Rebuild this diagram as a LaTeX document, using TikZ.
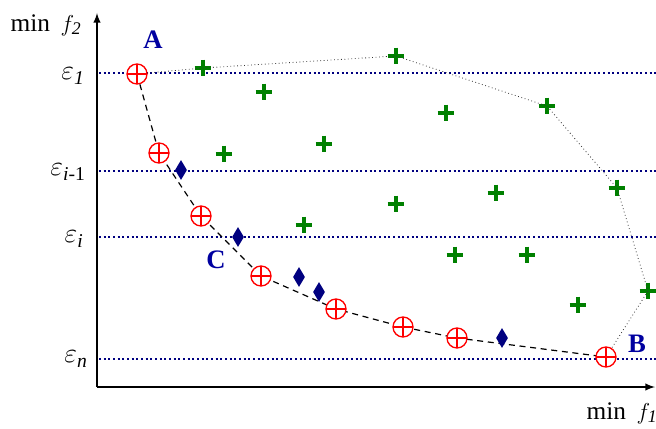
\documentclass[tikz,border=0pt]{standalone}
\usepackage{amsmath}
\usepackage{fontspec}
\setmainfont{Liberation Serif}
\usepackage{tikz}
\usetikzlibrary{shapes.geometric}
\usepackage{xcolor}
\definecolor{navy}{RGB}{0,0,128}
\definecolor{labblue}{RGB}{0,0,160}
\definecolor{ptgreen}{RGB}{0,128,0}

\begin{document}
\begin{tikzpicture}[x=0.75pt,y=-0.75pt,
			axis/.style={line width=1.5pt,-latex},
			level/.style={navy,dotted,line width=1.5pt},
			front/.style={black,dash pattern=on 4.5pt off 3.5pt,line width=0.9pt},
			hull/.style={black!80,dotted,line width=0.6pt},
			pareto/.style={draw=red,circle,line width=1pt,fill=white,inner sep=0pt,minimum size=15pt,
				path picture={\draw[red,line width=1pt] (path picture bounding box.north) -- (path picture bounding box.south)
				(path picture bounding box.west) -- (path picture bounding box.east);}},
			sol/.style={diamond,fill=navy,inner sep=0pt,minimum width=9pt,minimum height=15pt},
			pt/.style={inner sep=0pt,minimum size=12.5pt,
				path picture={\draw[ptgreen,line width=2.6pt] (path picture bounding box.north) -- (path picture bounding box.south)
				(path picture bounding box.west) -- (path picture bounding box.east);}},
			lab/.style={font=\fontsize{19}{22}\selectfont},
			eps/.style={font=\fontsize{21}{24}\selectfont},
			corner/.style={labblue,font=\fontsize{20}{22}\selectfont\bfseries}]
			\useasboundingbox (0,0) rectangle (656,428);
			% axes
			\coordinate (o) at (97,387);
			\coordinate (ytop) at (97,13);
			\coordinate (xend) at (655,387);
			\draw[axis] (o) -- (ytop);
			\draw[axis] (o) -- (xend);
			\node[lab] (yl) at (46,25) {min\, $f_{\mathit{2}}$};
			\node[lab] (xl) at (622,413) {min\, $f_{\mathit{1}}$};
			% epsilon levels
			\foreach \y/\n in {73/e1,171/e2,237/e3,359/e4}{
				\coordinate (\n a) at (99,\y);
				\coordinate (\n b) at (656,\y);
				\draw[level] (\n a) -- (\n b);
			}
			\node[eps] (l1) at (73,76) {$\varepsilon_{\mathit{1}}$};
			\node[eps] (l2) at (68,172) {$\varepsilon_{\mathit{i}\text{-1}}$};
			\node[eps] (l3) at (74,239) {$\varepsilon_{\mathit{i}}$};
			\node[eps] (l4) at (76,359) {$\varepsilon_{\mathit{n}}$};
			% dominated points
			\foreach \x/\y [count=\i] in {203/68,264/92,224/154,324/144,396/56,446/113,547/106,
				396/204,496/193,304/225,617/188,455/255,527/255,578/305,648/291}
				\node[pt] (g\i) at (\x,\y) {};
			% hull
			\draw[hull] (137,74) -- (g1.center) -- (g5.center) -- (g7.center) -- (g11.center) -- (g15.center) -- (606,357);
			% pareto front
			\draw[front] (137,74) -- (159,153) -- (201,216) -- (261,276) -- (336,309) -- (403,327) -- (457,338) -- (606,357);
			\foreach \x/\y [count=\i] in {137/74,159/153,201/216,261/276,336/309,403/327,457/338,606/357}
				\node[pareto] (p\i) at (\x,\y) {};
			\foreach \x/\y [count=\i] in {181/170,238/237,299/277,319/292,502/338}
				\node[sol] (d\i) at (\x,\y) {};
			\node[corner] (A) at (153,40) {A};
			\node[corner] (B) at (637,344) {B};
			\node[corner] (C) at (216,260) {C};
		\end{tikzpicture}
\end{document}
